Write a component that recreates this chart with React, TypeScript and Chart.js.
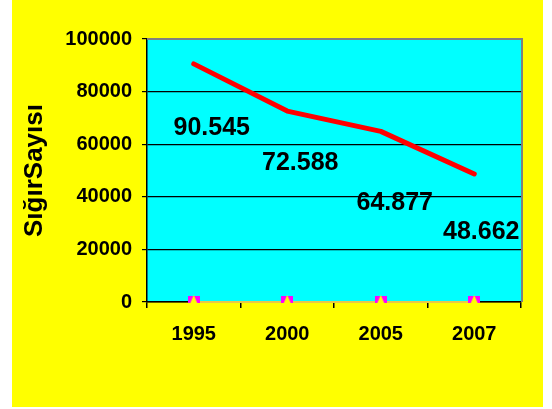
import React, { useEffect, useRef } from "react";
import { Chart, registerables } from "chart.js";

Chart.register(...registerables);

const years = ["1995", "2000", "2005", "2007"];
const cattle = [90545, 72588, 64877, 48662];
const baseline = [0, 0, 0, 0];
const yMin = 0;
const yMax = 100000;
const yStep = 20000;
const yTitle = "SığırSayısı";
// label placement offsets (style), in px relative to each point
const labelOffsets = [
  [18, 64],
  [13, 52],
  [14, 72],
  [7, 58],
];

const FONT = "'Liberation Sans', Arial, sans-serif";

function fmt(v: number): string {
  return String(v).replace(/\B(?=(\d{3})+(?!\d))/g, ".");
}

function makeMarker(): HTMLCanvasElement {
  const c = document.createElement("canvas");
  c.width = 12;
  c.height = 14;
  const g = c.getContext("2d")!;
  g.fillStyle = "#ff00ff";
  g.fillRect(0, 1, 12, 7);
  g.fillStyle = "#ffff00";
  g.beginPath();
  g.moveTo(6, 0);
  g.lineTo(12, 14);
  g.lineTo(0, 14);
  g.closePath();
  g.fill();
  return c;
}

const bgPlugin = {
  id: "bgPlugin",
  beforeDraw(chart: any) {
    const { ctx, chartArea: a } = chart;
    ctx.save();
    ctx.fillStyle = "#ffff00";
    ctx.fillRect(12, 0, 531, 407);
    ctx.fillStyle = "#00ffff";
    ctx.fillRect(a.left, a.top, a.right - a.left, a.bottom - a.top);
    ctx.restore();
  },
  beforeDatasetsDraw(chart: any) {
    const { ctx, chartArea: a } = chart;
    ctx.save();
    ctx.strokeStyle = "#808080";
    ctx.lineWidth = 2;
    ctx.beginPath();
    ctx.moveTo(a.left, a.top);
    ctx.lineTo(a.right + 1, a.top);
    ctx.lineTo(a.right + 1, a.bottom);
    ctx.stroke();
    ctx.restore();
  },
  afterDatasetsDraw(chart: any) {
    const { ctx } = chart;
    const meta = chart.getDatasetMeta(0);
    ctx.save();
    ctx.font = `bold 25px ${FONT}`;
    ctx.fillStyle = "#000000";
    ctx.textAlign = "center";
    ctx.textBaseline = "middle";
    meta.data.forEach((pt: any, i: number) => {
      const off = labelOffsets[i] || [0, 0];
      ctx.fillText(fmt(cattle[i]), pt.x + off[0], pt.y + off[1]);
    });
    ctx.restore();
  },
};

export default function App() {
  const ref = useRef<HTMLCanvasElement | null>(null);

  useEffect(() => {
    if (!ref.current) return;
    const marker = makeMarker();
    const chart = new Chart(ref.current, {
      type: "line",
      data: {
        labels: years,
        datasets: [
          {
            data: cattle,
            borderColor: "#ff0000",
            borderWidth: 5,
            borderCapStyle: "round",
            borderJoinStyle: "round",
            pointRadius: 0,
            tension: 0,
            fill: false,
          },
          {
            data: baseline,
            borderColor: "#e8c84a",
            borderWidth: 2,
            pointStyle: marker as any,
            pointRadius: 6,
            tension: 0,
            fill: false,
            clip: false as any,
          },
        ],
      },
      options: {
        responsive: false,
        animation: false,
        devicePixelRatio: 1,
        layout: { padding: { left: 12, top: 39, right: 31, bottom: 0 } },
        plugins: {
          legend: { display: false },
          tooltip: { enabled: false },
        },
        scales: {
          x: {
            type: "category",
            offset: true,
            grid: {
              offset: true,
              drawOnChartArea: false,
              drawTicks: true,
              tickLength: 6,
              color: "#000000",
              lineWidth: 1.5,
            },
            border: { display: true, color: "#000000", width: 1.5 },
            ticks: {
              color: "#000000",
              padding: 14,
              font: { family: FONT, size: 20, weight: "bold" },
              maxRotation: 0,
            },
            afterFit(scale: any) {
              scale.height = 107;
            },
          },
          y: {
            min: yMin,
            max: yMax,
            ticks: {
              stepSize: yStep,
              color: "#000000",
              padding: 10,
              font: { family: FONT, size: 20, weight: "bold" },
              callback: (v: any) => String(v),
            },
            grid: {
              color: (c: any) => (c.tick && c.tick.value === yMax ? "rgba(0,0,0,0)" : "#000000"),
              lineWidth: 1.2,
              tickColor: "#000000",
              tickLength: 5,
              drawTicks: true,
            },
            border: { display: true, color: "#000000", width: 1.5 },
            title: {
              display: true,
              text: yTitle,
              color: "#000000",
              font: { family: FONT, size: 26, weight: "bold" },
              padding: { top: 7, bottom: 0 },
            },
            afterFit(scale: any) {
              scale.width = 135;
            },
          },
        },
      },
      plugins: [bgPlugin],
    } as any);
    return () => chart.destroy();
  }, []);

  return (
    <div style={{ position: "fixed", left: 0, top: 0, width: 552, height: 409, background: "#ffffff" }}>
      <canvas ref={ref} width={552} height={409} style={{ width: 552, height: 409, display: "block" }} />
    </div>
  );
}
